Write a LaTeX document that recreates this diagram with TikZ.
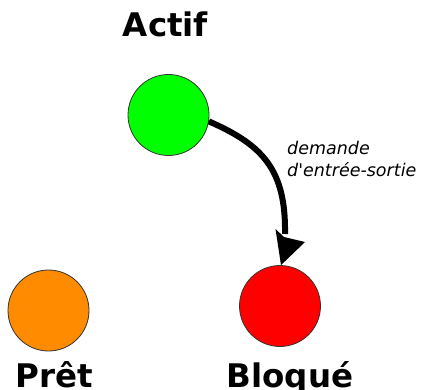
\documentclass[tikz,border=0pt]{standalone}
\usepackage{fontspec}
\setmainfont{DejaVu Sans}
\newfontfamily\translabelfont{DejaVu Sans}
\usetikzlibrary{arrows.meta}
\begin{document}
\begin{tikzpicture}[x=1pt,y=-1pt,
  state/.style={circle,draw=black!80,line width=0.8pt,minimum size=81pt,inner sep=0pt},
  statelabel/.style={anchor=base,inner sep=0pt,font=\bfseries\fontsize{32.5}{39}\selectfont},
  trans/.style={line width=6pt},
  transhead/.style={fill=black},
  translabel/.style={anchor=base west,align=left,inner sep=0pt,font=\translabelfont\itshape\fontsize{17.5}{22}\selectfont}]
\useasboundingbox (0,0) rectangle (428,390);
\node[state,fill={rgb,255:red,0;green,255;blue,0}] (actif) at (168.5,115) {};
\node[state,fill={rgb,255:red,255;green,140;blue,0}] (pret) at (48.5,310.5) {};
\node[state,fill={rgb,255:red,255;green,0;blue,0}] (bloque) at (280,306) {};
\node[statelabel] (lactif) at (165.5,37) {Actif};
\node[statelabel] (lpret) at (54,387) {Prêt};
\node[statelabel] (lbloque) at (290,387) {Bloqué};
\coordinate (stemend) at (285,234);
\coordinate (tip) at ([xshift=1pt]bloque.north);
\draw[trans] (actif.-9) .. controls (263,145) and (286,170) .. (stemend);
\fill[transhead] (275.5,229) -- (284,237) -- (305,242) -- (tip) -- cycle;
\node[translabel] (ltrans) at (287,177) {demande\\d'entrée-sortie};
\end{tikzpicture}
\end{document}
